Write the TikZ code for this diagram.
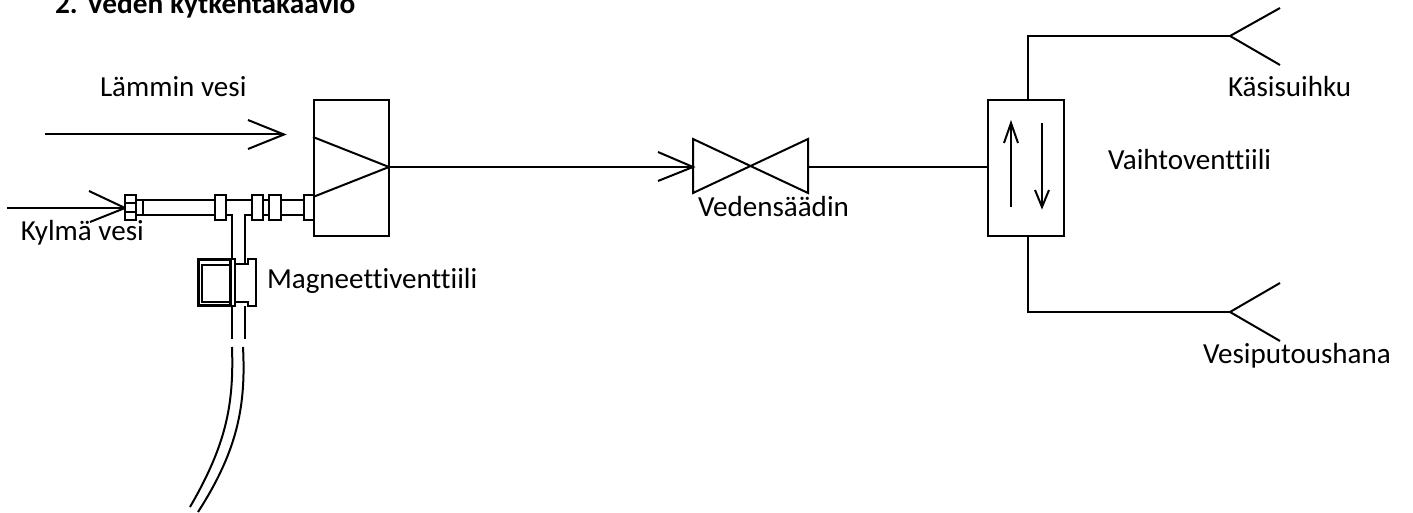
\documentclass[tikz,border=0pt]{standalone}
\usepackage{fontspec}
\setmainfont{Carlito}[Ligatures=NoCommon]
\usetikzlibrary{calc,positioning}

\begin{document}
\begin{tikzpicture}[x=0.75pt,y=-0.75pt,line width=1.5pt,line cap=butt,
    label/.style={anchor=base west,inner sep=0pt,font=\fontsize{21.8}{24}\selectfont},
    unit/.style={draw,rectangle,inner sep=0pt,line width=1.5pt},
    fitting/.style={draw,rectangle,inner sep=0pt,minimum height=18.75pt,line width=1.5pt}]

  \useasboundingbox (0,0) rectangle (1413,513);

  \node[label,font=\fontsize{22}{24}\selectfont\bfseries] (title) at (54,14) {2. Veden kytkentäkaavio};
  \node[label] (warm) at (99,97) {Lämmin vesi};
  \node[label] (cold) at (20,241) {Kylmä vesi};
  \node[label] (magnet) at (266,289) {Magneettiventtiili};
  \node[label] (regulator) at (697,217) {Vedensäädin};
  \node[label] (switch) at (1107,170) {Vaihtoventtiili};
  \node[label] (hand) at (1227,97) {Käsisuihku};
  \node[label] (fall) at (1202,363) {Vesiputoushana};

  \node[unit,minimum width=56.25pt,minimum height=102pt] (mixer) at (351.5,168) {};
  \node[unit,minimum width=57pt,minimum height=102pt] (selector) at (1026,168) {};

  % warm water
  \coordinate (warmstart) at (45,134.5);
  \coordinate (warmtip) at (284,134.5);
  \draw (warmstart) -- (warmtip);
  \draw (248,120) -- (warmtip) -- (248,149);

  % mixer triangle
  \coordinate (mixertip) at (389,167);
  \draw (mixer.west |- 0,137) -- (mixertip) -- (mixer.west |- 0,197);

  % to the regulator
  \coordinate (valvein) at (693,167);
  \coordinate (valveout) at (808,167);
  \coordinate (valvemid) at (750.5,167);
  \draw (mixertip) -- (valvein);
  \draw (658,152) -- (valvein) -- (658,181);
  \draw[line join=miter] (693,139) -- (808,193) -- (808,139) -- (693,193) -- cycle;
  \draw (valveout) -- (selector.west |- valveout);

  % selector
  \draw (1011,207) -- (1011,123);
  \draw (1004,143) -- (1011,123) -- (1018,143);
  \draw (1042,123) -- (1042,207);
  \draw (1035,190) -- (1042,207) -- (1049,190);

  % outlets
  \coordinate (handhorn) at (1230,36);
  \coordinate (fallhorn) at (1230,312);
  \draw (selector.north -| 1028,0) |- (handhorn);
  \draw (1280,8) -- (handhorn) -- (1280,65);
  \draw (selector.south -| 1028,0) |- (fallhorn);
  \draw (1280,283) -- (fallhorn) -- (1280,341);

  % cold water
  \coordinate (coldstart) at (7,208);
  \coordinate (coldtip) at (125,208);
  \draw (coldstart) -- (coldtip);
  \draw (89,191) -- (coldtip) -- (90,222);

  % pipe
  \draw (143,200) -- (304,200);
  \draw (143,215) -- (232,215) -- (232,259);
  \draw (304,215) -- (245,215) -- (245,264);

  \foreach \xa/\xb [count=\j] in {%
    125/136,%
    215/226,%
    252/263,%
    269/281,%
    304/314%
  } {
    \pgfmathsetmacro{\w}{(\xb-\xa)*0.75}
    \node[fitting,fill=white,minimum width=\w pt] (fit\j) at ({(\xa+\xb)/2},207.5) {};
  }
  \draw (fit1.west |- 0,203) -- (fit1.east |- 0,203);
  \draw (fit1.west |- 0,212) -- (fit1.east |- 0,212);
  \draw (136,200) rectangle (143,215);

  % magnet valve
  \draw[line width=2.25pt] (198,260) rectangle (230,305);
  \draw (202,265) rectangle (230,302);
  \draw (230,259) rectangle (235,306);
  \draw (235,264) -- (248,264) -- (248,259) -- (256,259) -- (256,306) -- (248,306) -- (248,302) -- (235,302);

  % hose
  \draw (232,306) -- (232,339);
  \draw (245,306) -- (245,339);
  \draw (232,347) .. controls (234,405) and (226,445) .. (190,507);
  \draw (243,347) .. controls (246,405) and (238,450) .. (198,512);
\end{tikzpicture}
\end{document}
